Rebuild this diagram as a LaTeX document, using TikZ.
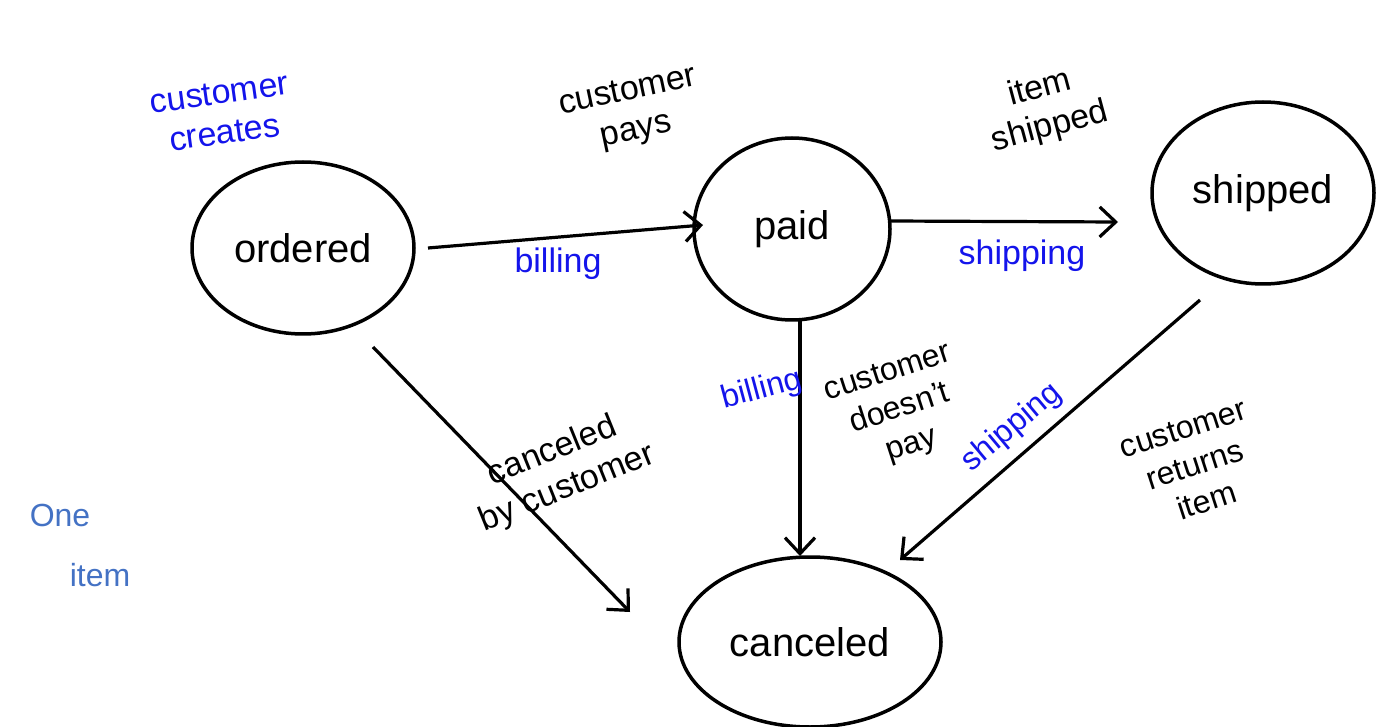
\documentclass[tikz,border=0pt]{standalone}
\usepackage{fontspec}
\setmainfont{Liberation Sans}
\usetikzlibrary{arrows.meta,shapes.geometric}
\definecolor{pen}{RGB}{20,20,235}
\definecolor{soft}{RGB}{68,114,196}
\tikzset{
  state/.style={draw=black, line width=3.5pt, ellipse, inner sep=0pt, font=\fontsize{40}{44}\selectfont},
  edge/.style={draw=black, line width=3.2pt, -{Straight Barb[length=16pt,width=30pt,line width=3.2pt]}},
  lbl/.style={font=\fontsize{34}{40}\selectfont, align=center, text=black, inner sep=1pt},
  blbl/.style={lbl, text=pen},
  slbl/.style={lbl, text=soft, font=\fontsize{32}{60}\selectfont}
}
\begin{document}
\begin{tikzpicture}[x=1pt,y=-1pt]
\useasboundingbox (0,0) rectangle (1382,727);
% states
\node[state, minimum width=222pt, minimum height=172pt] (ordered) at (303,248) {ordered};
\node[state, minimum width=196pt, minimum height=182pt] (paid) at (792,229) {paid};
\node[state, minimum width=222pt, minimum height=182pt] (shipped) at (1263,193) {shipped};
\node[state, minimum width=262pt, minimum height=170pt] (canceled) at (810,642) {canceled};
% connectors
\coordinate (o1) at (428,248);
\coordinate (p1) at (703,225);
\draw[edge] (o1) -- (p1);
\coordinate (p2) at (890,221);
\coordinate (s1) at (1118,222);
\draw[edge] (p2) -- (s1);
\coordinate (o2) at (373,347);
\coordinate (c1) at (630,612);
\draw[edge] (o2) -- (c1);
\coordinate (p3) at (800,318);
\coordinate (c2) at (800,556);
\draw[edge] (p3) -- (c2);
\coordinate (s2) at (1200,300);
\coordinate (c3) at (900,560);
\draw[edge] (s2) -- (c3);
% labels
\node[blbl, rotate=8] (lcc) at (222,113) {customer\\creates};
\node[lbl, rotate=12] (lcp) at (632,112) {customer\\pays};
\node[lbl, rotate=15] (lis) at (1045,108) {item\\shipped};
\node[blbl] (lb1) at (558,264) {billing};
\node[blbl] (ls1) at (1022,256) {shipping};
\node[lbl, rotate=22] (lcbc) at (560,470) {canceled\\by customer};
\node[blbl, rotate=15, font=\fontsize{32}{36}\selectfont] (lb2) at (762,390) {billing};
\node[lbl, rotate=18, font=\fontsize{32}{38}\selectfont] (lcdp) at (900,410) {customer\\doesn't\\pay};
\node[blbl, rotate=40, font=\fontsize{32}{36}\selectfont] (ls2) at (1012,428) {shipping};
\node[lbl, rotate=18, font=\fontsize{32}{38}\selectfont] (lcri) at (1195,465) {customer\\returns\\item};
\node[slbl, align=left] (lone) at (80,545) {One\\\hspace*{40pt}item};
\end{tikzpicture}
\end{document}
